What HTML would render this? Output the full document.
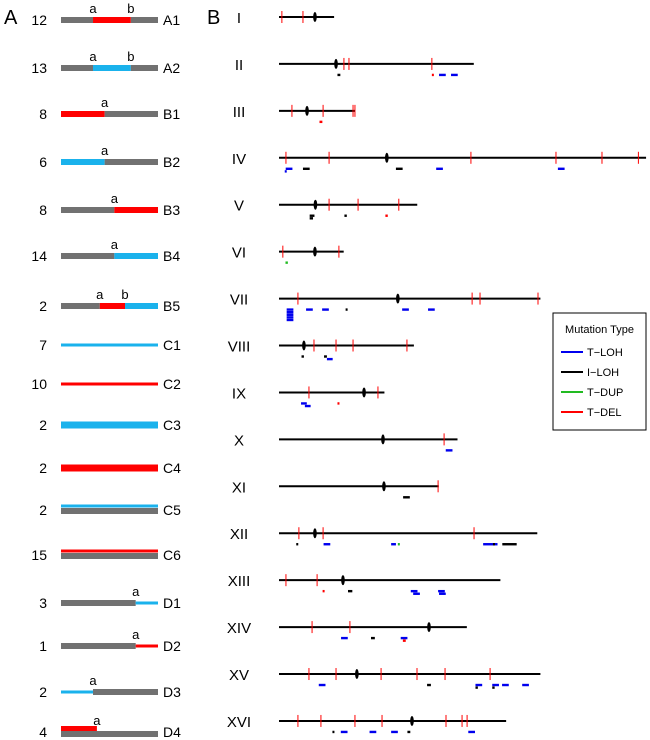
<!DOCTYPE html>
<html><head><meta charset="utf-8">
<style>
html,body{margin:0;padding:0;background:#fff;}
svg{display:block;font-family:"Liberation Sans",Arial,sans-serif;}
</style></head>
<body>
<svg id="fig" width="650" height="740" viewBox="0 0 650 740">
<text x="4" y="24" font-size="20">A</text>
<text x="207" y="24" font-size="20">B</text>
<g id="pa"></g>
<g id="pb"></g>
<g>
<rect x="553" y="313" width="93" height="117" fill="#fff" stroke="#000" stroke-width="1"/>
<text x="599.5" y="333" font-size="11" text-anchor="middle">Mutation Type</text>
<g><line x1="561" y1="352" x2="583" y2="352" stroke="#0000ee" stroke-width="2"/><text x="587" y="356" font-size="11">T−LOH</text></g>
<g><line x1="561" y1="372" x2="583" y2="372" stroke="#000" stroke-width="2"/><text x="587" y="376" font-size="11">I−LOH</text></g>
<g><line x1="561" y1="392" x2="583" y2="392" stroke="#22bb22" stroke-width="2"/><text x="587" y="396" font-size="11">T−DUP</text></g>
<g><line x1="561" y1="412" x2="583" y2="412" stroke="#ff0000" stroke-width="2"/><text x="587" y="416" font-size="11">T−DEL</text></g>
</g>
</svg>
<script>
// ---------- Panel B data (kb) ----------
const chromNames = ["I","II","III","IV","V","VI","VII","VIII","IX","X","XI","XII","XIII","XIV","XV","XVI"];
const chromLengths = [230,813,317,1532,577,270,1091,563,440,745,667,1078,924,784,1091,948];
const centromeres = [150,238,117,450,152,150,496,104,355,434,438,150,267,626,325,555];
const breakpoints = [
 [12,100],[271,292,638],[54,184,309,317],[29,209,801,1156,1348,1500],[209,330,500],[16,250],
 [79,806,839,1081],[146,238,309,534],[125,413],[689],[664],[83,184,814],[29,159],[138,296],
 [125,238,426,576,693,881],[79,175,317,430,697,764,785]
];
// mutation events: chrom index, start kb, length kb, type, stack row
const mutChrom = [1,1,1,1, 2, 3,3,3,3,3,3, 4,4,4,4, 5, 6,6,6,6,6,6,6,6,6,6, 7,7,7, 8,8,8, 9, 10, 11,11,11,11,11,11,11, 12,12,12,12,12,12, 13,13,13,13, 14,14,14,14,14,14,14,14, 15,15,15,15,15,15,15];
const mutStart = [244,638,668,718, 169, 28,24,100,488,656,1164, 128,128,273,444, 27, 32,32,32,32,32,113,180,278,514,622, 94,188,200, 92,108,244, 696, 518, 72,186,468,496,852,893,932, 182,288,550,560,664,668, 259,384,508,517, 618,820,820,890,890,931,1015, 166,223,258,378,468,536,790];
const mutLen = [12,8,28,28, 12, 28,8,28,28,28,28, 20,14,10,10, 10, 28,28,28,28,28,28,28,8,28,28, 10,12,24, 24,24,8, 28, 28, 8,28,20,8,60,8,60, 8,18,28,28,28,28, 28,16,28,12, 16,28,10,28,10,28,28, 28,8,28,28,28,12,28];
const mutType = ["I","D","T","T", "D", "T","T","I","I","T","T", "I","I","I","D", "U", "T","T","T","T","T","T","T","I","T","T", "I","I","T", "T","T","D", "T", "I", "I","T","T","U","T","I","I", "D","I","T","T","T","T", "T","I","T","D", "I","T","I","T","I","T","T", "T","I","T","T","T","I","T"];
const mutRow = [0,0,0,0, 0, 0,1,0,0,0,0, 0,1,0,0, 0, 0,1,2,3,4,0,0,0,0,0, 0,0,1, 0,1,0, 0, 0, 0,0,0,0,0,0,0, 0,0,0,1,0,1, 0,0,0,1, 0,0,1,0,1,0,0, 0,0,0,0,0,0,0];

// ---------- Panel A data ----------
const aCounts = [12,13,8,6,8,14,2,7,10,2,2,2,15,3,1,2,4];
const aLabels = ["A1","A2","B1","B2","B3","B4","B5","C1","C2","C3","C4","C5","C6","D1","D2","D3","D4"];
// segments: [fraction start, fraction end, colour code, thickness code, layer]
const aSegments = [
 [[0,.33,"g"],[.33,.72,"r"],[.72,1,"g"]],
 [[0,.33,"g"],[.33,.72,"b"],[.72,1,"g"]],
 [[0,.45,"r"],[.45,1,"g"]],
 [[0,.45,"b"],[.45,1,"g"]],
 [[0,.55,"g"],[.55,1,"r"]],
 [[0,.55,"g"],[.55,1,"b"]],
 [[0,.4,"g"],[.4,.66,"r"],[.66,1,"b"]],
 [[0,1,"b",3]],
 [[0,1,"r",3]],
 [[0,1,"b",7]],
 [[0,1,"r",7]],
 [[0,1,"b",3,-4],[0,1,"g",6,1]],
 [[0,1,"r",3,-4],[0,1,"g",6,1]],
 [[0,.77,"g"],[.77,1,"b",3]],
 [[0,.77,"g"],[.77,1,"r",3]],
 [[0,.33,"b",3],[.33,1,"g"]],
 [[0,.37,"r",6,-3],[0,1,"g",6,2]]
];
const aMarks = [["a",.33,"b",.72],["a",.33,"b",.72],["a",.45],["a",.45],["a",.55],["a",.55],["a",.4,"b",.66],[],[],[],[],[],[],["a",.77],["a",.77],["a",.33],["a",.37]];
const aRowY = [20,68,114,162,210,256,306,345,384,425,468,510,555,603,646,692,732];

const NS="http://www.w3.org/2000/svg";
function mk(tag,attrs,parent){const e=document.createElementNS(NS,tag);for(const k in attrs)e.setAttribute(k,attrs[k]);parent.appendChild(e);return e;}
const colA={g:"#717171",r:"#ff0000",b:"#1ab2ec"};
const pa=document.getElementById("pa");
const ax0=61, ax1=158;
aLabels.forEach((lab,i)=>{
  const y=aRowY[i];
  const g=mk("g",{},pa);
  
  
  const c=mk("text",{x:47,y:y+5,"font-size":14,"text-anchor":"end"},g);c.textContent=aCounts[i];
  
  
  aSegments[i].forEach(s=>{
    const th=s[3]||6, off=s[4]||0;
    const r=mk("rect",{x:ax0+s[0]*(ax1-ax0),y:y-th/2+off,width:(s[1]-s[0])*(ax1-ax0),height:th,fill:colA[s[2]]},g);
    
    
  });
  const m=aMarks[i];
  for(let k=0;k<m.length;k+=2){const t=mk("text",{x:ax0+m[k+1]*(ax1-ax0),y:y-7,"font-size":13,"text-anchor":"middle"},g);t.textContent=m[k];}
  const l=mk("text",{x:163,y:y+5,"font-size":14},g);l.textContent=lab;
  
  
});

// Panel B
const pb=document.getElementById("pb");
const bx0=279, kbScale=0.2396, by0=17, rowGap=46.93;
const xk=kb=>bx0+kb*kbScale;
const yr=i=>by0+i*rowGap;
const colB={T:"#0000ee",I:"#000",U:"#22bb22",D:"#ff0000"};
chromNames.forEach((nm,i)=>{
  const y=yr(i);
  const g=mk("g",{},pb);
  
  
  const t=mk("text",{x:239,y:y+6,"font-size":15,"text-anchor":"middle"},g);t.textContent=nm;
  
  
  mk("line",{x1:bx0,y1:y,x2:xk(chromLengths[i]),y2:y,stroke:"#000","stroke-width":2},g);
  breakpoints[i].forEach(b=>{
    const e=mk("line",{x1:xk(b),y1:y-6,x2:xk(b),y2:y+6,stroke:"#ff0000","stroke-width":1},g);
    
    
  });
  const c=mk("ellipse",{cx:xk(centromeres[i]),cy:y,rx:1.8,ry:5,fill:"#000"},g);
  
  
});
mutChrom.forEach((ci,j)=>{
  const y=yr(ci)+11+mutRow[j]*2.6;
  const r=mk("rect",{x:xk(mutStart[j]),y:y-1.2,width:Math.max(2,mutLen[j]*kbScale),height:2.4,fill:colB[mutType[j]]},pb);
  
  
});
</script>
</body></html>
